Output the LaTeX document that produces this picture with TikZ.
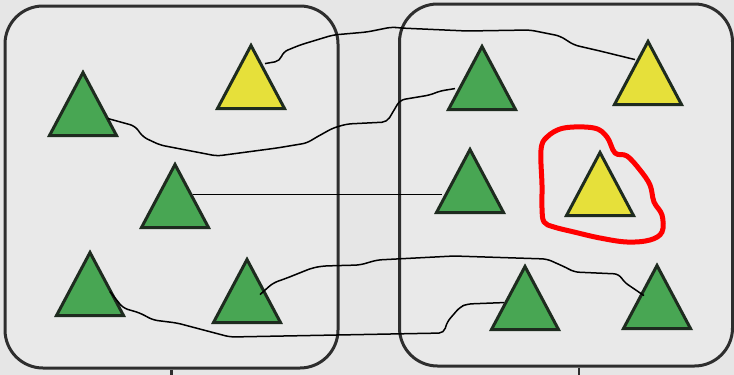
\documentclass[tikz,border=0pt]{standalone}
\usetikzlibrary{shapes.geometric}
\definecolor{ink}{HTML}{2E2E2E}
\definecolor{paper}{HTML}{E6E6E6}
\definecolor{panelfill}{HTML}{E9E9E9}
\definecolor{leaf}{HTML}{48A653}
\definecolor{lemon}{HTML}{E6E03A}
\definecolor{edge}{HTML}{1E2B1F}
\definecolor{marker}{HTML}{FF0000}
\tikzset{
  panel/.style={draw=ink, line width=3pt, rounded corners=38pt, fill=panelfill, minimum width=333pt, minimum height=362pt, inner sep=0pt},
  tri/.style={isosceles triangle, isosceles triangle stretches, shape border rotate=90, draw=edge, line width=3pt, minimum width=67pt, minimum height=63pt, inner sep=0pt, anchor=lower side},
  greentri/.style={tri, fill=leaf},
  yellowtri/.style={tri, fill=lemon},
  link/.style={draw=black, line width=1.5pt, rounded corners=5pt},
  stem/.style={draw=ink, line width=2.6pt},
  redloop/.style={draw=marker, line width=5pt, line join=round}
}

\begin{document}
\begin{tikzpicture}[x=1pt, y=-1pt]
  \fill[paper] (0,0) rectangle (734,375);
  \useasboundingbox (0,0) rectangle (734,375);

  % the two panels
  \node[panel] (lbox) at (171.5,187) {};
  \node[panel] (rbox) at (566,185) {};
  \coordinate (lfoot) at (171.5,375);
  \coordinate (rfoot) at (579,375);
  \draw[stem] (lbox.south) -- (lfoot);
  \draw[stem] ([xshift=13pt]rbox.south) -- (rfoot);

  % left panel
  \node[greentri] (l1) at (83,137) {};
  \node[yellowtri] (l2) at (251,110) {};
  \node[greentri] (l3) at (175,229) {};
  \node[greentri] (l4) at (90,317) {};
  \node[greentri] (l5) at (247,324) {};

  % right panel
  \node[greentri] (r1) at (482,111) {};
  \node[yellowtri] (r2) at (648,106) {};
  \node[greentri] (r3) at (470,214) {};
  \node[yellowtri] (r4) at (600,217) {};
  \node[greentri] (r5) at (525,331) {};
  \node[greentri] (r6) at (657,330) {};

  % matching lines
  \draw[link] ([shift={(14,22)}]l2.apex) -- (280,61) -- (283,52) -- (300,45) -- (333,35) -- (367,32)
    -- (392,27) -- (400,28) -- (467,31) -- (530,30) -- (560,36) -- (574,45) -- (600,51)
    -- ([shift={(-13,22)}]r2.apex);
  \draw[link] ([shift={(25,50)}]l1.apex) -- (135,126) -- (143,137) -- (160,145) -- (217,156)
    -- (277,148) -- (307,143) -- (315,138) -- (333,128) -- (347,124) -- (387,122) -- (400,100)
    -- (430,95) -- (440,91) -- ([shift={(-27,46)}]r1.apex);
  \draw[link] ([shift={(18,34)}]l3.apex) -- ([shift={(-28,49)}]r3.apex);
  \draw[link] ([shift={(13,39)}]l5.apex) -- (273,283) -- (287,278) -- (312,268) -- (323,266)
    -- (360,265) -- (377,260) -- (454,256) -- (547,259) -- (567,268) -- (574,272) -- (619,274)
    -- (624,282) -- ([shift={(-13,34)}]r6.apex);
  \draw[link] ([shift={(20,43)}]l4.apex) -- (123,308) -- (140,313) -- (153,320) -- (177,323)
    -- (230,337) -- (444,333) -- (447,322) -- (460,307) -- (467,304) -- ([shift={(-21,40)}]r5.apex);

  % odd one out
  \draw[redloop] plot[smooth cycle, tension=0.6] coordinates {(547,137) (564,128) (594,128) (607,137)
    (615,153) (627,156) (640,170) (650,185) (654,202) (662,215) (662,232) (650,240) (627,242)
    (600,238) (574,232) (554,227) (544,222) (542,208) (542,185) (541,150)};
\end{tikzpicture}
\end{document}
